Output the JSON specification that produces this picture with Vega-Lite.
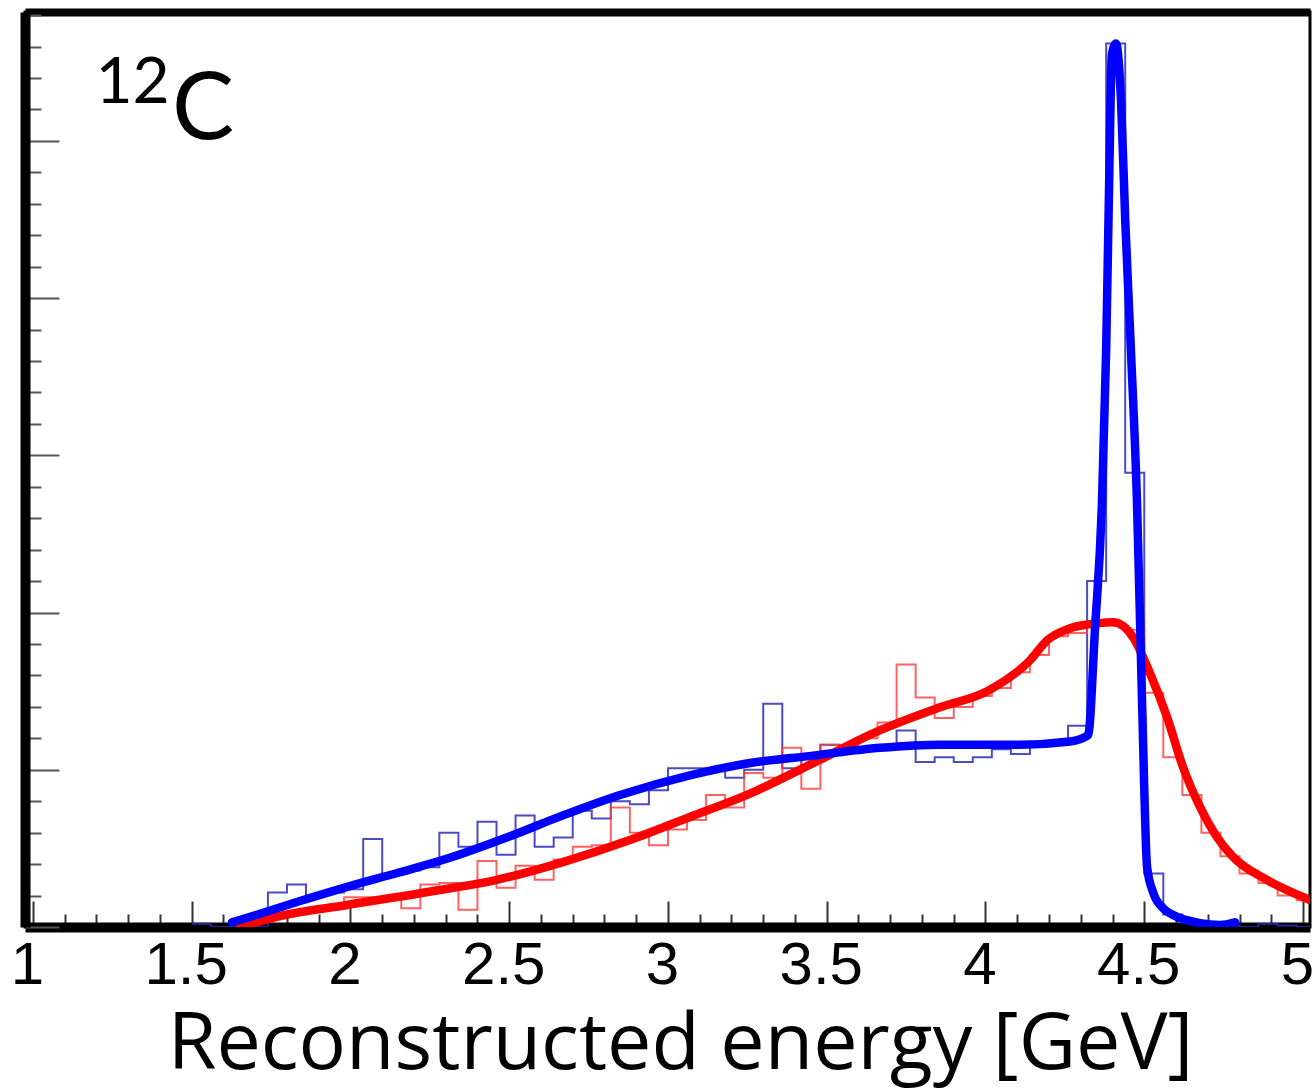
{
  "$schema": "https://vega.github.io/schema/vega-lite/v6.json",
  "width": 1285,
  "height": 915,
  "autosize": {"type": "none"},
  "padding": {"left": 25, "top": 12, "right": 3, "bottom": 164},
  "background": "white",
  "config": {"view": {"stroke": "black", "strokeWidth": 3}},
  "datasets": {
    "blueHist": [
      {"x": 1.50, "y": 0.02}, {"x": 1.56, "y": 0.0}, {"x": 1.62, "y": 0.0}, {"x": 1.68, "y": 0.0},
      {"x": 1.74, "y": 0.22}, {"x": 1.80, "y": 0.27}, {"x": 1.86, "y": 0.20}, {"x": 1.92, "y": 0.22},
      {"x": 1.98, "y": 0.24}, {"x": 2.04, "y": 0.56}, {"x": 2.10, "y": 0.33}, {"x": 2.16, "y": 0.36},
      {"x": 2.22, "y": 0.38}, {"x": 2.28, "y": 0.60}, {"x": 2.34, "y": 0.51}, {"x": 2.40, "y": 0.67},
      {"x": 2.46, "y": 0.46}, {"x": 2.52, "y": 0.71}, {"x": 2.58, "y": 0.51}, {"x": 2.64, "y": 0.57},
      {"x": 2.70, "y": 0.74}, {"x": 2.76, "y": 0.69}, {"x": 2.82, "y": 0.80}, {"x": 2.88, "y": 0.78},
      {"x": 2.94, "y": 0.87}, {"x": 3.00, "y": 1.01}, {"x": 3.06, "y": 1.01}, {"x": 3.12, "y": 1.01},
      {"x": 3.18, "y": 0.95}, {"x": 3.24, "y": 1.00}, {"x": 3.30, "y": 1.42}, {"x": 3.36, "y": 1.01},
      {"x": 3.42, "y": 1.08}, {"x": 3.48, "y": 1.16}, {"x": 3.54, "y": 1.12}, {"x": 3.60, "y": 1.13},
      {"x": 3.66, "y": 1.15}, {"x": 3.72, "y": 1.25}, {"x": 3.78, "y": 1.05}, {"x": 3.84, "y": 1.08},
      {"x": 3.90, "y": 1.05}, {"x": 3.96, "y": 1.08}, {"x": 4.02, "y": 1.13}, {"x": 4.08, "y": 1.10},
      {"x": 4.14, "y": 1.16}, {"x": 4.20, "y": 1.16}, {"x": 4.26, "y": 1.28}, {"x": 4.32, "y": 2.20},
      {"x": 4.38, "y": 5.62}, {"x": 4.44, "y": 2.89}, {"x": 4.50, "y": 0.34}, {"x": 4.56, "y": 0.08},
      {"x": 4.62, "y": 0.03}, {"x": 4.68, "y": 0.01}, {"x": 4.74, "y": 0.01}, {"x": 4.80, "y": 0.0},
      {"x": 4.86, "y": 0.02}, {"x": 4.92, "y": 0.01}, {"x": 4.98, "y": 0.0}, {"x": 5.04, "y": 0.0}
    ],
    "redHist": [
      {"x": 1.62, "y": 0.02}, {"x": 1.68, "y": 0.04}, {"x": 1.74, "y": 0.06}, {"x": 1.80, "y": 0.08},
      {"x": 1.86, "y": 0.10}, {"x": 1.92, "y": 0.13}, {"x": 1.98, "y": 0.19}, {"x": 2.04, "y": 0.19},
      {"x": 2.10, "y": 0.19}, {"x": 2.16, "y": 0.12}, {"x": 2.22, "y": 0.27}, {"x": 2.28, "y": 0.28},
      {"x": 2.34, "y": 0.11}, {"x": 2.40, "y": 0.42}, {"x": 2.46, "y": 0.25}, {"x": 2.52, "y": 0.39},
      {"x": 2.58, "y": 0.30}, {"x": 2.64, "y": 0.43}, {"x": 2.70, "y": 0.51}, {"x": 2.76, "y": 0.52},
      {"x": 2.82, "y": 0.76}, {"x": 2.88, "y": 0.60}, {"x": 2.94, "y": 0.52}, {"x": 3.00, "y": 0.62},
      {"x": 3.06, "y": 0.68}, {"x": 3.12, "y": 0.84}, {"x": 3.18, "y": 0.76}, {"x": 3.24, "y": 0.98},
      {"x": 3.30, "y": 0.95}, {"x": 3.36, "y": 1.14}, {"x": 3.42, "y": 0.88}, {"x": 3.48, "y": 1.16},
      {"x": 3.54, "y": 1.12}, {"x": 3.60, "y": 1.20}, {"x": 3.66, "y": 1.30}, {"x": 3.72, "y": 1.67},
      {"x": 3.78, "y": 1.46}, {"x": 3.84, "y": 1.33}, {"x": 3.90, "y": 1.40}, {"x": 3.96, "y": 1.47},
      {"x": 4.02, "y": 1.52}, {"x": 4.08, "y": 1.62}, {"x": 4.14, "y": 1.73}, {"x": 4.20, "y": 1.85},
      {"x": 4.26, "y": 1.87}, {"x": 4.32, "y": 1.93}, {"x": 4.38, "y": 1.93}, {"x": 4.44, "y": 1.89},
      {"x": 4.50, "y": 1.49}, {"x": 4.56, "y": 1.08}, {"x": 4.62, "y": 0.84}, {"x": 4.68, "y": 0.60},
      {"x": 4.74, "y": 0.45}, {"x": 4.80, "y": 0.34}, {"x": 4.86, "y": 0.28}, {"x": 4.92, "y": 0.20},
      {"x": 4.98, "y": 0.17}, {"x": 5.04, "y": 0.17}
    ],
    "blueFit": [
      {"x": 1.627, "y": 0.03}, {"x": 1.70, "y": 0.075}, {"x": 1.841, "y": 0.165}, {"x": 1.998, "y": 0.26},
      {"x": 2.15, "y": 0.345}, {"x": 2.313, "y": 0.44}, {"x": 2.50, "y": 0.575}, {"x": 2.669, "y": 0.71},
      {"x": 2.849, "y": 0.84}, {"x": 3.069, "y": 0.965}, {"x": 3.249, "y": 1.04}, {"x": 3.457, "y": 1.09},
      {"x": 3.668, "y": 1.14}, {"x": 3.857, "y": 1.16}, {"x": 4.109, "y": 1.16}, {"x": 4.266, "y": 1.18},
      {"x": 4.323, "y": 1.22}, {"x": 4.345, "y": 1.9}, {"x": 4.367, "y": 2.71}, {"x": 4.38, "y": 3.67},
      {"x": 4.39, "y": 4.8}, {"x": 4.398, "y": 5.55}, {"x": 4.411, "y": 5.62}, {"x": 4.427, "y": 5.25},
      {"x": 4.44, "y": 4.5}, {"x": 4.458, "y": 3.67}, {"x": 4.477, "y": 2.71}, {"x": 4.493, "y": 1.44},
      {"x": 4.509, "y": 0.38}, {"x": 4.528, "y": 0.22}, {"x": 4.559, "y": 0.12}, {"x": 4.591, "y": 0.076},
      {"x": 4.676, "y": 0.025}, {"x": 4.739, "y": 0.013}, {"x": 4.786, "y": 0.03}
    ],
    "redFit": [
      {"x": 1.652, "y": 0.0}, {"x": 1.778, "y": 0.07}, {"x": 1.989, "y": 0.14}, {"x": 2.282, "y": 0.235},
      {"x": 2.461, "y": 0.30}, {"x": 2.669, "y": 0.413}, {"x": 2.880, "y": 0.553}, {"x": 3.069, "y": 0.70},
      {"x": 3.249, "y": 0.84}, {"x": 3.457, "y": 1.042}, {"x": 3.668, "y": 1.252}, {"x": 3.857, "y": 1.398},
      {"x": 4.005, "y": 1.50}, {"x": 4.140, "y": 1.696}, {"x": 4.194, "y": 1.823}, {"x": 4.266, "y": 1.90},
      {"x": 4.351, "y": 1.931}, {"x": 4.402, "y": 1.938}, {"x": 4.465, "y": 1.842}, {"x": 4.518, "y": 1.614},
      {"x": 4.572, "y": 1.334}, {"x": 4.622, "y": 1.017}, {"x": 4.676, "y": 0.762}, {"x": 4.729, "y": 0.572},
      {"x": 4.780, "y": 0.445}, {"x": 4.887, "y": 0.299}, {"x": 5.022, "y": 0.172}
    ],
    "labels": [
      {"x": 1.197, "y": 5.24, "t": "12", "size": 64},
      {"x": 1.438, "y": 5.01, "t": "C", "size": 93}
    ]
  },
  "layer": [
    {
      "data": {"name": "blueHist"},
      "mark": {"type": "line", "interpolate": "step-after", "color": "#2b2bb8", "strokeWidth": 2, "opacity": 0.85, "clip": true},
      "encoding": {
        "x": {
          "field": "x", "type": "quantitative",
          "scale": {"domain": [0.975, 5.022], "nice": false, "zero": false},
          "axis": {
            "orient": "bottom",
            "values": [1, 1.1, 1.2, 1.3, 1.4, 1.5, 1.6, 1.7, 1.8, 1.9, 2, 2.1, 2.2, 2.3, 2.4, 2.5, 2.6, 2.7, 2.8, 2.9, 3, 3.1, 3.2, 3.3, 3.4, 3.5, 3.6, 3.7, 3.8, 3.9, 4, 4.1, 4.2, 4.3, 4.4, 4.5, 4.6, 4.7, 4.8, 4.9, 5],
            "tickSize": {"condition": {"test": "abs(datum.value*2 - round(datum.value*2)) < 0.001", "value": -26}, "value": -13},
            "tickWidth": 2,
            "tickColor": "#333333",
            "domainColor": "black",
            "domainWidth": 10,
            "grid": false,
            "format": "~g",
            "labelExpr": "abs(datum.value*2 - round(datum.value*2)) < 0.001 ? datum.label : ''",
            "labelFont": "Liberation Sans",
            "labelFontSize": 60,
            "labelColor": "black",
            "labelPadding": 35,
            "labelOffset": -6,
            "labelFlush": false,
            "labelOverlap": false,
            "title": "Reconstructed energy [GeV]",
            "titleFont": "Open Sans",
            "titleFontSize": 79,
            "titleFontWeight": "normal",
            "titleColor": "black",
            "titleX": 655,
            "titleY": 141,
            "titleBaseline": "alphabetic",
            "titleAnchor": "middle",
            "titleAlign": "center"
          }
        },
        "y": {
          "field": "y", "type": "quantitative",
          "scale": {"domain": [0, 5.82], "nice": false, "zero": false},
          "axis": {
            "orient": "left",
            "values": [0, 0.2, 0.4, 0.6, 0.8, 1, 1.2, 1.4, 1.6, 1.8, 2, 2.2, 2.4, 2.6, 2.8, 3, 3.2, 3.4, 3.6, 3.8, 4, 4.2, 4.4, 4.6, 4.8, 5, 5.2, 5.4, 5.6, 5.8],
            "tickSize": {"condition": {"test": "abs(datum.value - round(datum.value)) < 0.001", "value": -34}, "value": -16},
            "tickWidth": 2,
            "tickColor": "#555555",
            "domainColor": "black",
            "domainWidth": 10,
            "grid": false,
            "labels": false,
            "title": null
          }
        }
      }
    },
    {
      "data": {"name": "redHist"},
      "mark": {"type": "line", "interpolate": "step-after", "color": "#ff3b3b", "strokeWidth": 2, "opacity": 0.8, "clip": true},
      "encoding": {
        "x": {"field": "x", "type": "quantitative", "axis": {"orient": "top", "labels": false, "ticks": false, "domainColor": "black", "domainWidth": 8, "grid": false, "title": null}},
        "y": {"field": "y", "type": "quantitative", "axis": null}
      }
    },
    {
      "data": {"name": "redFit"},
      "mark": {"type": "line", "interpolate": "monotone", "color": "#ff0000", "strokeWidth": 8.5, "strokeCap": "round", "strokeJoin": "round", "clip": true},
      "encoding": {
        "x": {"field": "x", "type": "quantitative", "axis": null},
        "y": {"field": "y", "type": "quantitative", "axis": null}
      }
    },
    {
      "data": {"name": "blueFit"},
      "mark": {"type": "line", "interpolate": "monotone", "color": "#0000ff", "strokeWidth": 8.5, "strokeCap": "round", "strokeJoin": "round", "clip": true},
      "encoding": {
        "x": {"field": "x", "type": "quantitative", "axis": null},
        "y": {"field": "y", "type": "quantitative", "axis": null}
      }
    },
    {
      "data": {"name": "labels"},
      "mark": {"type": "text", "font": "Lato", "align": "left", "baseline": "alphabetic", "color": "black"},
      "encoding": {
        "x": {"field": "x", "type": "quantitative", "axis": null},
        "y": {"field": "y", "type": "quantitative", "axis": null},
        "text": {"field": "t"},
        "size": {"field": "size", "type": "quantitative", "scale": null, "legend": null}
      }
    }
  ],
  "resolve": {"axis": {"x": "independent", "y": "independent"}}
}
